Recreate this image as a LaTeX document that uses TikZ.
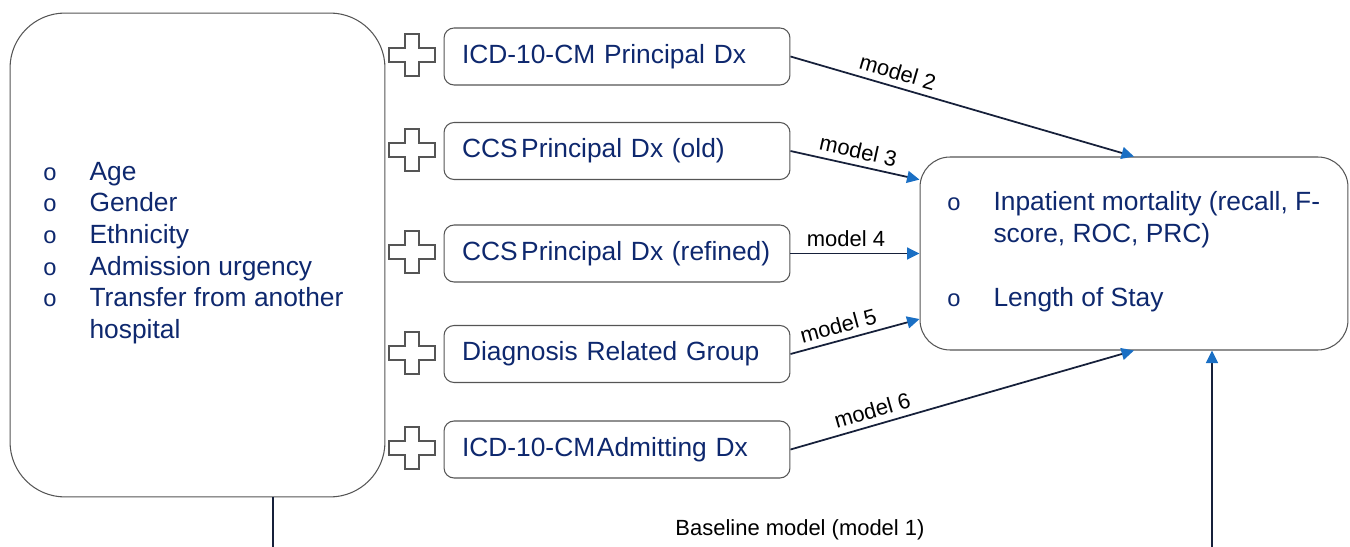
\documentclass[tikz,border=0pt]{standalone}
\usepackage{fontspec}
\setmainfont{Liberation Sans}
\usetikzlibrary{positioning}
\usetikzlibrary{calc}
\usetikzlibrary{arrows.meta}
\definecolor{dxblue}{RGB}{14,40,110}
\definecolor{tipblue}{RGB}{26,111,196}
\definecolor{linenavy}{RGB}{22,32,58}
\definecolor{boxgray}{RGB}{85,85,85}
\newcommand{\bul}{{\fontsize{13.5}{14}\selectfont o}}

\begin{document}
\begin{tikzpicture}[x=0.02cm,y=-0.02cm,
         covbox/.style={draw=boxgray,line width=0.6pt,rounded corners=1.1cm,minimum width=7.5cm,minimum height=9.68cm},
         dxbox/.style={draw=boxgray,line width=0.6pt,rounded corners=0.2cm,text width=6.2cm,inner xsep=0.36cm,
            minimum height=1.14cm,align=left,text=dxblue,font=\fontsize{15}{18}\selectfont},
         outbox/.style={draw=boxgray,line width=0.6pt,rounded corners=0.6cm,minimum width=8.56cm,minimum height=3.86cm},
         listtxt/.style={anchor=west,text=dxblue,font=\fontsize{15}{18}\selectfont,inner sep=0pt},
         plusmark/.style={draw=boxgray,line width=0.6pt,fill=white},
         modelarrow/.style={draw=linenavy,line width=1pt,-{Triangle[length=0.25cm,width=0.24cm,color=tipblue]}},
         baseline/.style={draw=linenavy,line width=0.8pt},
         lbl/.style={font=\fontsize{12.5}{15}\selectfont,sloped,above,inner sep=3.5pt}]
      \useasboundingbox (0,0) rectangle (1350,547);
      %
         % covariates of the baseline model
         \node (covars) at (197.5,255) [covbox]{};
         \node (covlist) at (43,253) [listtxt]{\begin{tabular}{@{}l@{\hspace{0.66cm}}l@{}}
            \bul & Age\\ \bul & Gender\\ \bul & Ethnicity\\ \bul & Admission urgency\\
            \bul & Transfer from another\\ & hospital\end{tabular}};
      %
         % diagnosis groupings added on top
         \node (icdprin) at (617,56.5) [dxbox]{ICD-10-CM Principal Dx};
         \node (ccsold) at (617,151) [dxbox]{CCS\hspace{2pt}Principal Dx (old)};
         \node (ccsref) at (617,253.5) [dxbox]{\mbox{CCS\hspace{2pt}Principal Dx (refined)}};
         \node (drg) at (617,354) [dxbox]{Diagnosis Related Group};
         \node (icdadm) at (617,449.5) [dxbox]{ICD-10-CM\hspace{1pt}Admitting Dx};
         \foreach \py in {55,150,252,353,448}{
            \draw[plusmark,shift={(412,\py)}] (-7,-21) -- (7,-21) -- (7,-7) -- (23,-7) -- (23,7) -- (7,7)
               -- (7,21) -- (-7,21) -- (-7,7) -- (-23,7) -- (-23,-7) -- (-7,-7) -- cycle;
         }
      %
         % outcomes
         \node (outcome) at (1134,253.5) [outbox]{};
         \node (outlist) at (947,252.5) [listtxt]{\begin{tabular}{@{}l@{\hspace{0.66cm}}l@{}}
            \bul & Inpatient mortality (recall, F-\\ & score, ROC, PRC)\\[0.66cm]
            \bul & Length of Stay\end{tabular}};
      %%
         \draw[modelarrow](icdprin.east)--(outcome.north) node[lbl,pos=0.3]{model 2};
         \draw[modelarrow](ccsold.east)--(outcome.161) node[lbl,pos=0.5]{model 3};
         \draw[modelarrow](ccsref.east)--(outcome.west) node[lbl,pos=0.43]{model 4};
         \draw[modelarrow](drg.east)--(outcome.197) node[lbl,pos=0.4]{model 5};
         \draw[modelarrow](icdadm.east)--(outcome.south) node[lbl,pos=0.25]{model 6};
      %
         % baseline model runs along the bottom
         \coordinate (basel) at (273,547);
         \coordinate (baser) at (1212,547);
         \draw[baseline](covars.south -| basel)--(basel);
         \draw[modelarrow,line width=0.8pt](baser)--(outcome.south -| baser);
         \node (basetxt) at (800,530) [font=\fontsize{12.5}{15}\selectfont]{Baseline model (model 1)};
   \end{tikzpicture}
\end{document}
